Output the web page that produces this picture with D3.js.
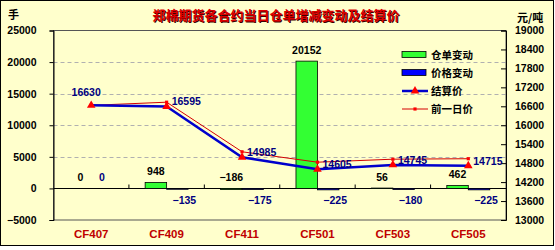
<!DOCTYPE html>
<html>
<head>
<meta charset="utf-8">
<script src="https://cdn.jsdelivr.net/npm/d3@7"></script>
<style>
  body { margin: 0; background: #fff; }
  text { font-family: "Liberation Sans", Arial, sans-serif; font-weight: bold; }
  .cjk { font-family: "Noto Sans CJK SC", sans-serif; font-weight: bold; }
</style>
</head>
<body>
<div id="chart"></div>
<script>
// Data
const categories = ["CF407", "CF409", "CF411", "CF501", "CF503", "CF505"];
const warrantChange = [0, 948, -186, 20152, 56, 462];
const priceChange = [0, -135, -175, -225, -180, -225];
const settlePrice = [16630, 16595, 14985, 14605, 14745, 14715];
const prevPrice = [16630, 16730, 15160, 14830, 14925, 14940];
const leftTicks = [-5000, 0, 5000, 10000, 15000, 20000, 25000];
const rightTicks = [13000, 13600, 14200, 14800, 15400, 16000, 16600, 17200, 17800, 18400, 19000];
const seriesNames = ["仓单变动", "价格变动", "结算价", "前一日价"];

const W = 555, H = 250;
const plot = { left: 53.5, right: 506, top: 30.5, bottom: 220 };

const svg = d3.select("#chart")
  .append("svg")
    .attr("width", W)
    .attr("height", H);

// Background and frame
svg.append("rect")
  .attr("x", 0.5).attr("y", 0.5)
  .attr("width", 553).attr("height", 245)
  .attr("fill", "#ffffcc")
  .attr("stroke", "#000");

// Scales
const x = d3.scaleBand()
  .domain(categories)
  .range([plot.left, plot.right]);
const xSub = d3.scaleBand()
  .domain(["w", "p"])
  .range([0, x.bandwidth()])
  .paddingOuter(0.755);
const yL = d3.scaleLinear().domain([-5000, 25000]).range([plot.bottom, plot.top]);
const yR = d3.scaleLinear().domain([13000, 19000]).range([plot.bottom, plot.top]);

// Gridlines
svg.append("g")
  .selectAll("line")
  .data(leftTicks.filter(d => d > 0 && d < 25000))
  .join("line")
    .attr("x1", plot.left).attr("x2", plot.right)
    .attr("y1", d => Math.round(yL(d)) + 0.5)
    .attr("y2", d => Math.round(yL(d)) + 0.5)
    .attr("stroke", "#b0b0b0")
    .attr("stroke-dasharray", "4,3");

// Plot frame
svg.append("rect")
  .attr("x", plot.left).attr("y", plot.top)
  .attr("width", plot.right - plot.left)
  .attr("height", plot.bottom - plot.top)
  .attr("fill", "none")
  .attr("stroke", "#555")
  .attr("stroke-width", 1);

// Left axis
const leftAxis = svg.append("g")
  .attr("transform", "translate(" + plot.left + ",0)")
  .call(d3.axisLeft(yL).tickValues(leftTicks).tickSize(4).tickPadding(13).tickFormat(d3.format("d")));
leftAxis.select(".domain").attr("stroke", "#000");
leftAxis.selectAll("text").style("font-size", "10.5px").attr("fill", "#000")
  .text(d => d < 0 ? "\u2212" + Math.abs(d) : d);

// Right axis (ticks point inward)
const rightAxis = svg.append("g")
  .attr("transform", "translate(" + plot.right + ",0)")
  .call(d3.axisLeft(yR).tickValues(rightTicks).tickSize(5).tickFormat(d3.format("d")));
rightAxis.select(".domain").attr("stroke", "#000");
rightAxis.selectAll("text")
  .attr("x", 9)
  .attr("text-anchor", "start")
  .style("font-size", "10.5px").attr("fill", "#000");

// Category axis on the zero line
const y0 = Math.round(yL(0)) + 0.5;
svg.append("line")
  .attr("x1", plot.left).attr("x2", plot.right)
  .attr("y1", y0).attr("y2", y0)
  .attr("stroke", "#000");
svg.append("g")
  .selectAll("line")
  .data(categories.slice(1))
  .join("line")
    .attr("x1", d => x(d)).attr("x2", d => x(d))
    .attr("y1", y0).attr("y2", y0 - 4)
    .attr("stroke", "#000");

svg.append("g")
  .selectAll("text")
  .data(categories)
  .join("text")
    .attr("x", d => x(d) + x.bandwidth() / 2)
    .attr("y", 238)
    .attr("text-anchor", "middle")
    .style("font-size", "11.5px")
    .attr("fill", "#c00000")
    .text(d => d);

// Bars
function bar(values, key, color) {
  svg.append("g")
    .selectAll("rect")
    .data(values)
    .join("rect")
      .attr("x", (d, i) => x(categories[i]) + xSub(key))
      .attr("width", xSub.bandwidth())
      .attr("y", d => yL(Math.max(d, 0)))
      .attr("height", d => Math.abs(yL(d) - yL(0)))
      .attr("fill", color)
      .attr("stroke", "#000")
      .attr("stroke-width", 0.8);
}
bar(warrantChange, "w", "#33ff33");
bar(priceChange, "p", "#0000ff");

// Bar labels
svg.append("g")
  .selectAll("text")
  .data(warrantChange)
  .join("text")
    .attr("x", (d, i) => x(categories[i]) + xSub("w") + xSub.bandwidth() / 2)
    .attr("y", d => yL(Math.max(d, 0)) - 7)
    .attr("text-anchor", "middle")
    .style("font-size", "10.5px")
    .attr("fill", "#000")
    .text(d => d < 0 ? "\u2212" + Math.abs(d) : d);

svg.append("g")
  .selectAll("text")
  .data(priceChange)
  .join("text")
    .attr("x", (d, i) => x(categories[i]) + xSub("p") + xSub.bandwidth() / 2 + (d < 0 ? 7 : 0))
    .attr("y", d => d < 0 ? yL(0) + 16 : yL(0) - 7)
    .attr("text-anchor", "middle")
    .style("font-size", "10.5px")
    .attr("fill", "#000080")
    .text(d => d < 0 ? "\u2212" + Math.abs(d) : d);

// Lines
const cx = i => x(categories[i]) + x.bandwidth() / 2;

svg.append("path")
  .datum(prevPrice)
  .attr("fill", "none")
  .attr("stroke", "#d40000")
  .attr("stroke-width", 1)
  .attr("d", d3.line().x((d, i) => cx(i)).y(d => yR(d)));

svg.append("path")
  .datum(settlePrice)
  .attr("fill", "none")
  .attr("stroke", "#0000cc")
  .attr("stroke-width", 2.5)
  .attr("d", d3.line().x((d, i) => cx(i)).y(d => yR(d)));

const tri = d3.symbol().type(d3.symbolTriangle).size(32);
const sq = d3.symbol().type(d3.symbolSquare).size(10);

svg.append("g")
  .selectAll("path")
  .data(prevPrice)
  .join("path")
    .attr("transform", (d, i) => "translate(" + cx(i) + "," + yR(d) + ")")
    .attr("d", sq)
    .attr("fill", "#ff0000");

svg.append("g")
  .selectAll("path")
  .data(settlePrice)
  .join("path")
    .attr("transform", (d, i) => "translate(" + cx(i) + "," + yR(d) + ")")
    .attr("d", tri)
    .attr("fill", "#ff0000");

svg.append("g")
  .selectAll("text")
  .data(settlePrice)
  .join("text")
    .attr("x", (d, i) => i === 0 ? cx(i) - 5 : cx(i) + 5)
    .attr("y", (d, i) => i === 0 ? yR(d) - 9 : yR(d) - 1)
    .attr("text-anchor", (d, i) => i === 0 ? "middle" : "start")
    .style("font-size", "10.5px")
    .attr("fill", "#000080")
    .text(d => d);

// Legend
const legend = svg.append("g").attr("transform", "translate(402,0)");
const rowY = [54.5, 72.5, 91, 109];
legend.append("rect").attr("x", 0).attr("y", rowY[0] - 3).attr("width", 24).attr("height", 6)
  .attr("fill", "#33ff33").attr("stroke", "#000").attr("stroke-width", 0.8);
legend.append("rect").attr("x", 0).attr("y", rowY[1] - 3).attr("width", 24).attr("height", 6)
  .attr("fill", "#0000ff").attr("stroke", "#000").attr("stroke-width", 0.8);
legend.append("line").attr("x1", 0).attr("x2", 26).attr("y1", rowY[2]).attr("y2", rowY[2])
  .attr("stroke", "#0000cc").attr("stroke-width", 2.5);
legend.append("path").attr("transform", "translate(13," + rowY[2] + ")").attr("d", tri).attr("fill", "#ff0000");
legend.append("line").attr("x1", 0).attr("x2", 26).attr("y1", rowY[3]).attr("y2", rowY[3])
  .attr("stroke", "#d40000").attr("stroke-width", 1);
legend.append("path").attr("transform", "translate(13," + rowY[3] + ")").attr("d", sq).attr("fill", "#ff0000");
legend.selectAll("text.lg")
  .data(seriesNames)
  .join("text")
    .attr("class", "lg cjk")
    .attr("x", 29)
    .attr("y", (d, i) => rowY[i] + 4)
    .style("font-size", "10.5px")
    .attr("fill", "#000")
    .text(d => d);

// Titles
const title = "郑棉期货各合约当日仓单增减变动及结算价";
svg.append("text").attr("class", "cjk")
  .attr("x", 277).attr("y", 21)
  .attr("text-anchor", "middle")
  .style("font-size", "13px")
  .attr("fill", "#3a0000")
  .text(title);
svg.append("text").attr("class", "cjk")
  .attr("x", 276).attr("y", 20)
  .attr("text-anchor", "middle")
  .style("font-size", "13px")
  .attr("fill", "#dd0000")
  .text(title);

svg.append("text").attr("class", "cjk")
  .attr("x", 8).attr("y", 19)
  .style("font-size", "11px")
  .attr("fill", "#000")
  .text("手");
svg.append("text").attr("class", "cjk")
  .attr("x", 517).attr("y", 22)
  .style("font-size", "11px")
  .attr("fill", "#000")
  .text("元/吨");
</script>
</body>
</html>
